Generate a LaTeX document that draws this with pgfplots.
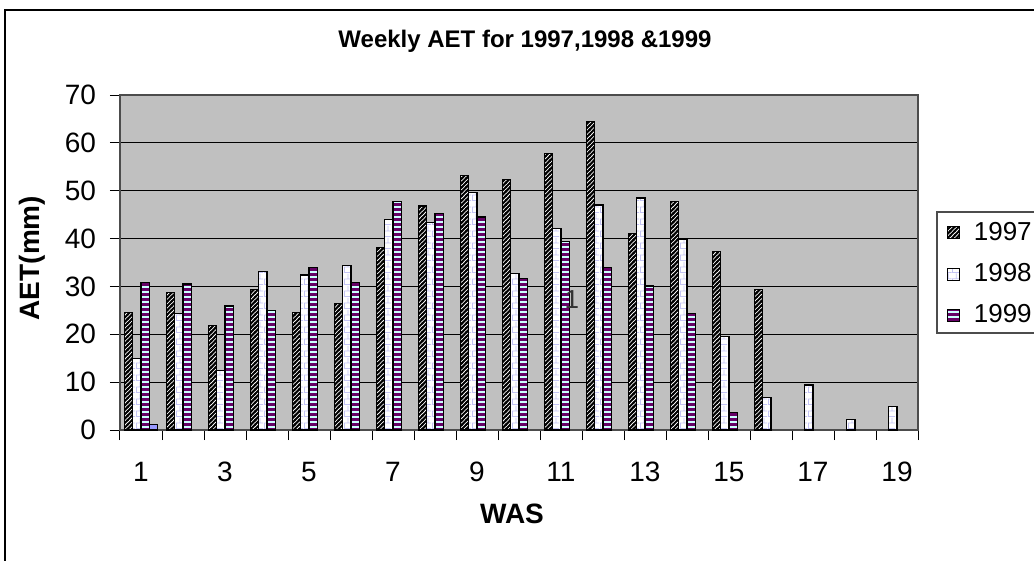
\documentclass[border=0pt]{standalone}
\usepackage{fontspec}
\setmainfont{Liberation Sans}
\usepackage{pgfplots}
\pgfplotsset{compat=1.18}
\usetikzlibrary{patterns}
\definecolor{plotbg}{HTML}{C0C0C0}
\definecolor{lav}{HTML}{C4C4F4}
\definecolor{stpurple}{HTML}{660066}
\definecolor{stcyan}{HTML}{CCFFFF}
\definecolor{barfour}{HTML}{9999FF}

\pgfdeclarepatternformonly{myhstripes}{\pgfpoint{-0.2pt}{0pt}}{\pgfpoint{12.2pt}{2.5pt}}{\pgfpoint{12pt}{2.5pt}}{%
  \pgfpathrectangle{\pgfpoint{-0.2pt}{0pt}}{\pgfpoint{12.4pt}{1.5pt}}\pgfusepath{fill}}
\pgfdeclarepatternformonly{myzigzag}{\pgfpoint{-0.8pt}{-0.8pt}}{\pgfpoint{3pt}{3pt}}{\pgfpoint{2.2pt}{2.2pt}}{%
  \pgfsetlinewidth{1.0pt}\pgfpathmoveto{\pgfpoint{-0.3pt}{-0.3pt}}\pgfpathlineto{\pgfpoint{2.5pt}{2.5pt}}\pgfusepath{stroke}}
\pgfdeclarepatternformonly{mybricks}{\pgfpoint{0pt}{0pt}}{\pgfpoint{4pt}{6pt}}{\pgfpoint{4pt}{6pt}}{%
  \pgfsetlinewidth{0.5pt}%
  \pgfpathmoveto{\pgfpoint{0pt}{0.25pt}}\pgfpathlineto{\pgfpoint{4pt}{0.25pt}}%
  \pgfpathmoveto{\pgfpoint{0pt}{3.25pt}}\pgfpathlineto{\pgfpoint{4pt}{3.25pt}}%
  \pgfpathmoveto{\pgfpoint{0.25pt}{0pt}}\pgfpathlineto{\pgfpoint{0.25pt}{3pt}}%
  \pgfpathmoveto{\pgfpoint{2.25pt}{3pt}}\pgfpathlineto{\pgfpoint{2.25pt}{6pt}}%
  \pgfusepath{stroke}}

\begin{document}
\begin{tikzpicture}
\useasboundingbox (0,0) rectangle (517pt,-280.5pt);
\begin{axis}[
  at={(60pt,-215pt)}, anchor=south west,
  scale only axis, width=399pt, height=167.5pt,
  xmin=0.5, xmax=19.5, ymin=0, ymax=70,
  ybar=0pt, bar width=4.15pt,
  axis background/.style={fill=plotbg},
  axis line style={draw=black!70, line width=0.8pt},
  ymajorgrids, grid style={black, line width=0.5pt},
  ytick={0,10,...,70},
  xtick={1,3,...,19},
  minor xtick={0.5,1.5,...,19.5},
  major x tick style={draw=none},
  minor x tick style={black, line width=0.5pt},
  y tick style={black, line width=0.5pt},
  tick align=outside, major tick length=5pt, minor tick length=5pt,
  xtick pos=bottom, ytick pos=left,
  ticklabel style={font=\fontsize{14}{16}\selectfont},
  xticklabel style={yshift=-7.5pt},
  yticklabel style={xshift=-3.5pt},
  /pgf/number format/assume math mode=true,
  legend style={at={(axis description cs:1.028,0.645)}, anchor=north west,
    draw=none, fill=none, font=\fontsize{13}{15}\selectfont, row sep=6pt},
  legend cell align=left,
  legend image code/.code={\draw[#1, line width=0.5pt] (0pt,-3pt) rectangle (6pt,3pt); \path (11pt,0pt);},
]
\addplot[draw=black, line width=0.6pt, fill=white, postaction={pattern=myzigzag, pattern color=black}]
coordinates {(1,24.5) (2,28.7) (3,21.8) (4,29.4) (5,24.5) (6,26.4) (7,38.1) (8,46.8) (9,53.1) (10,52.4)
 (11,57.7) (12,64.4) (13,41.1) (14,47.8) (15,37.3) (16,29.4)};
\addlegendentry{1997}
\addplot[draw=black, line width=0.6pt, fill=white, postaction={pattern=mybricks, pattern color=lav}]
coordinates {(1,15.0) (2,24.4) (3,12.4) (4,33.1) (5,32.4) (6,34.3) (7,44.0) (8,43.3) (9,49.7) (10,32.7)
 (11,42.1) (12,47.0) (13,48.5) (14,39.8) (15,19.6) (16,6.8) (17,9.4) (18,2.2) (19,4.9)};
\addlegendentry{1998}
\addplot[draw=black, line width=0.6pt, fill=stcyan, postaction={pattern=myhstripes, pattern color=stpurple}]
coordinates {(1,30.9) (2,30.5) (3,25.9) (4,24.9) (5,33.9) (6,30.9) (7,47.8) (8,45.2) (9,44.5) (10,31.6)
 (11,39.4) (12,33.9) (13,30.1) (14,24.4) (15,3.7)};
\addlegendentry{1999}
\addplot[draw=black, line width=0.6pt, fill=barfour]
coordinates {(1,1.2)};
\node[font=\fontsize{13}{15}\selectfont, text=black!80] at (axis cs:11.26,27.2) {1};
\end{axis}
\begin{scope}[x=0.5pt,y=-0.5pt]
\draw[line width=1pt] (5,580) -- (5,10) -- (1050,10);
\draw[line width=0.8pt, draw=black!70] (937,212) rectangle (1060,333);
\node[font=\bfseries\fontsize{12}{14}\selectfont] at (525,41) {Weekly AET for 1997,1998 \&1999};
\node[font=\bfseries\fontsize{14}{16}\selectfont] at (512,514) {WAS};
\node[font=\bfseries\fontsize{14}{16}\selectfont, rotate=90] at (32,258) {AET(mm)};
\end{scope}
\end{tikzpicture}
\end{document}
